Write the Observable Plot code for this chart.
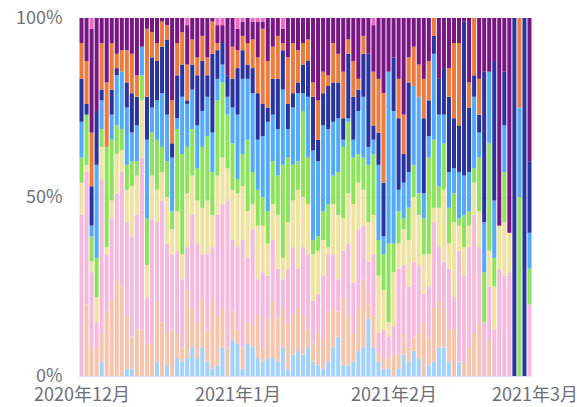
<!DOCTYPE html>
<html>
<head>
<meta charset="utf-8">
<script src="https://cdn.jsdelivr.net/npm/d3@7"></script>
<script src="https://cdn.jsdelivr.net/npm/@observablehq/plot@0.6"></script>
<style>
  html, body { margin: 0; padding: 0; background: #ffffff; }
  #chart svg { display: block; }
</style>
</head>
<body>
<div id="chart"></div>
<script>
// ---- data (percent share per day) ----
const firstDay = "2020-12-01";
const lastDay = "2021-02-28";
const seriesNames = ["s1", "s2", "s3", "s4", "s5", "s6", "s7", "s8", "s9", "s10"];
const seriesColors = ["#a3d3fc", "#f7c5ad", "#f5badd", "#f0e3a2", "#8de35c", "#52aaf9", "#2a34a0", "#ec7b3d", "#781683", "#f066c0"];
const tickValuesY = [0, 0.5, 1];

const lightBlue = [0,0,0,0,4,0,0,0,0,2, 2,0,0,0,0,4,0,3,0,5, 4,5,8,5,8,4,2,3,8,0, 10,9,2,9,8,5,4,5,5,4, 8,2,6,7,6,8,4,3,2,4, 8,11,3,3,4,7,8,16,8,4, 2,2,0,2,6,4,7,5,0,3, 4,8,8,4,0,4,0,0,0,0, 0,0,0,0,0,0,0,0,0,0];
const peach     = [0,20,8,8,8,18,21,27,25,15, 9,13,13,9,9,17,15,9,13,7, 4,19,11,10,13,9,19,14,11,8, 8,4,6,6,6,12,4,11,16,12, 11,13,11,12,11,5,5,9,8,14, 11,7,19,14,8,12,19,4,9,3, 3,3,6,4,6,4,4,7,15,8, 15,13,11,9,13,0,4,8,12,15, 0,10,0,0,0,0,0,0,0,0];
const pink      = [45,37,21,7,43,16,23,24,32,26, 28,32,48,13,35,22,34,25,21,23, 19,12,26,22,13,21,15,28,29,41, 20,23,30,18,27,10,21,12,17,14, 8,15,19,11,19,21,12,11,18,16, 15,9,13,20,14,22,15,12,17,5, 8,6,8,24,19,17,21,19,8,14, 24,15,13,17,9,31,24,28,33,21, 15,15,13,30,28,29,0,0,0,20];
const yellow    = [9,2,3,7,9,2,5,11,6,9, 14,11,16,9,12,9,8,13,7,11, 7,15,11,12,13,15,9,11,13,9, 14,15,15,13,7,15,13,9,10,15, 6,13,13,22,14,14,13,12,10,2, 14,18,9,14,22,13,10,11,11,16, 11,4,15,7,10,13,18,14,11,9, 4,11,20,7,21,7,8,6,9,10, 0,10,12,12,15,11,0,0,0,0];
const green     = [7,14,7,11,5,28,17,8,6,7, 7,4,7,13,12,14,7,10,5,23, 28,13,13,9,17,18,12,21,21,15, 13,4,9,20,9,10,8,9,12,11, 26,18,10,8,24,13,4,4,8,12, 8,12,20,20,13,8,9,16,17,10, 10,22,8,9,3,9,9,6,10,27, 19,6,13,10,8,2,9,4,4,15, 14,30,8,0,14,0,0,50,0,10];
const blue      = [10,0,3,26,8,0,7,14,16,16, 8,10,8,22,7,11,15,13,15,3, 16,12,11,12,10,11,11,6,5,5, 10,18,21,17,22,14,17,25,13,13, 21,8,16,19,5,17,25,21,24,21, 15,15,2,1,5,12,17,5,4,21, 5,48,37,6,10,10,22,27,7,6, 24,20,8,10,7,13,11,11,20,7, 14,20,16,0,13,0,0,25,0,10];
const navy      = [12,3,11,15,3,0,7,2,0,7, 11,8,0,12,14,11,13,21,4,12, 9,1,7,14,14,6,22,8,6,6, 8,13,8,4,7,13,9,4,10,14, 11,7,4,3,8,10,15,6,9,12, 11,10,6,18,12,6,12,26,4,9, 15,0,15,20,8,25,0,0,21,10, 5,10,13,21,14,13,43,18,6,5, 42,0,39,0,15,0,100,0,100,20];
const orange    = [10,12,15,0,13,18,13,4,6,9, 11,6,0,19,7,5,7,4,12,9, 9,10,7,5,7,5,9,2,0,0, 9,5,4,6,8,10,21,13,9,12, 2,13,14,9,6,6,4,11,6,3, 11,8,13,4,10,3,5,0,15,15, 25,0,0,11,11,7,11,9,11,11, 5,0,0,8,21,23,0,7,16,10, 0,0,0,0,0,0,0,25,0,0];
const purple    = [7,12,29,26,7,18,7,10,9,9, 10,16,8,3,4,7,1,2,23,7, 4,11,6,11,5,11,1,5,5,16, 8,6,4,7,5,10,2,12,8,5, 4,11,7,9,7,6,18,23,15,16, 7,10,15,6,12,17,5,10,13,17, 21,15,11,17,27,11,8,13,17,12, 0,17,14,14,7,7,1,18,0,17, 15,15,12,58,15,60,0,0,0,40];
const hotPink   = [0,0,3,0,0,0,0,0,0,0, 0,0,0,0,0,0,0,0,0,0, 0,2,0,0,0,0,0,2,2,0, 0,3,1,0,1,1,1,0,0,0, 3,0,0,0,0,0,0,0,0,0, 0,0,0,0,0,0,0,0,2,0, 0,0,0,0,0,0,0,0,0,0, 0,0,0,0,0,0,0,0,0,0, 0,0,0,0,0,0,0,0,0,0];

const seriesValues = [lightBlue, peach, pink, yellow, green, blue, navy, orange, purple, hotPink];

// ---- build table ----
const start = new Date(firstDay + "T00:00:00Z");
const end = new Date(lastDay + "T00:00:00Z");
const days = d3.utcDay.range(start, d3.utcDay.offset(end, 1));
const rows = [];
days.forEach((day, i) => {
  seriesNames.forEach((s, j) => {
    rows.push({
      day,
      from: d3.utcHour.offset(day, -12),
      to: d3.utcHour.offset(day, 12),
      series: s,
      value: seriesValues[j][i]
    });
  });
});

const fontFamily = "'Noto Sans CJK SC', 'Noto Sans', sans-serif";

const chart = Plot.plot({
  width: 577,
  height: 407,
  marginLeft: 79,
  marginRight: 45,
  marginTop: 18,
  marginBottom: 31,
  style: { fontFamily, fontSize: "18px", color: "#6e7079", background: "#ffffff", overflow: "visible" },
  x: {
    type: "utc",
    domain: [d3.utcHour.offset(start, -12), d3.utcHour.offset(end, 12)],
    ticks: d3.utcMonth.range(start, d3.utcMonth.offset(end, 1)),
    tickFormat: d => `${d.getUTCFullYear()}年${d.getUTCMonth() + 1}月`,
    tickSize: 0,
    tickPadding: 12,
    label: null
  },
  y: {
    domain: [0, 1],
    ticks: tickValuesY,
    tickFormat: d => `${Math.round(d * 100)}%`,
    tickSize: 0,
    tickPadding: 17,
    label: null
  },
  color: { domain: seriesNames, range: seriesColors },
  marks: [
    Plot.ruleY(tickValuesY, { stroke: "#e0e6f1" }),
    Plot.rectY(rows, Plot.stackY(
      { offset: "normalize", order: seriesNames },
      { x1: "from", x2: "to", y: "value", z: "series", fill: "series", insetLeft: 0.5, insetRight: 0.5 }
    ))
  ]
});

document.getElementById("chart").appendChild(chart);
</script>
</body>
</html>
